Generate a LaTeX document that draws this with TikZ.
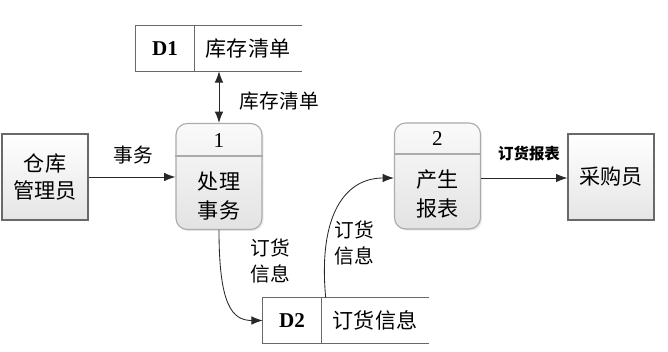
\documentclass[tikz,border=0pt]{standalone}
\usepackage{fontspec}
\setmainfont{Liberation Serif}
\newfontfamily\cjk{Noto Sans CJK SC}
\definecolor{BoxLine}{RGB}{105,105,105}
\definecolor{FlowLine}{RGB}{40,40,40}
\usetikzlibrary{arrows.meta,positioning,calc,shadows}

\tikzset{
  entity/.style={draw=BoxLine,line width=0.9pt,top color=white,bottom color=black!10,
    minimum width=2.15cm,minimum height=2.15cm,align=center,
    font=\cjk\fontsize{15}{19}\selectfont,
    drop shadow={opacity=0.15,shadow xshift=1pt,shadow yshift=-1pt}},
  proc/.style={draw=black!33,line width=0.8pt,rounded corners=8pt,top color=black!2,
    bottom color=black!11,minimum width=2.15cm,minimum height=2.65cm,
    drop shadow={opacity=0.15,shadow xshift=1.2pt,shadow yshift=-1.2pt}},
  proctext/.style={align=center,font=\cjk\fontsize{15}{20}\selectfont},
  storebox/.style={minimum width=4.15cm,minimum height=1.125cm,inner sep=0pt},
  storeline/.style={draw=BoxLine,line width=0.9pt},
  flow/.style={draw=FlowLine,line width=0.6pt,-{Latex[length=8pt,width=6pt]}},
  flowlabel/.style={font=\cjk\fontsize{14}{19}\selectfont,align=center}
}

\begin{document}
\begin{tikzpicture}[x=0.025cm,y=-0.025cm]
\useasboundingbox (0,0) rectangle (668,352);
% external entities
\node[entity] (clerk) at (45,177) {仓库\\管理员};
\node[entity] (buyer) at (611,177) {采购员};
% processes
\node[proc] (p1) at (219,176.5) {};
\node[proc] (p2) at (437.5,176) {};
\draw[draw=black!33,line width=0.8pt] (p1.west |- 0,156) -- (p1.east |- 0,156);
\draw[draw=black!33,line width=0.8pt] (p2.west |- 0,154) -- (p2.east |- 0,154);
\node[font=\fontsize{15}{18}\selectfont] (p1num) at (219,141) {1};
\node[font=\fontsize{15}{18}\selectfont] (p2num) at (437.5,139) {2};
\node[proctext] (p1txt) at (219,196) {处理\\事务};
\node[proctext] (p2txt) at (437.5,194) {产生\\报表};
% data stores
\foreach \n/\x/\y/\id/\txt in {d1/136/26/D1/库存清单, d2/263/298/D2/订货信息}{
  \node[storebox] (\n) at (\x+83,\y+22.5) {};
  \draw[storeline] (\n.north east) -- (\n.north west) -- (\n.south west) -- (\n.south east);
  \draw[storeline] ($(\n.north west)+(59,0)$) -- ($(\n.south west)+(59,0)$);
  \node[font=\bfseries\fontsize{15}{18}\selectfont] (\n id) at (\x+29,\y+22.5) {\id};
  \node[font=\cjk\fontsize{15}{18}\selectfont] (\n txt) at (\x+112,\y+22.5) {\txt};
}
% data flows
\draw[flow,{Latex[length=8pt,width=6pt]}-{Latex[length=8pt,width=6pt]}] (d1.south) -- (p1.north);
\node[flowlabel,anchor=west] (f1) at (235,101) {库存清单};
\draw[flow] (clerk.east) -- (clerk.east -| p1.west);
\node[flowlabel] (f2) at (133,155) {事务};
\draw[flow] (p1.south) .. controls (219,305) and (232,320.5) .. (d2.west);
\node[flowlabel] (f3) at (270,261) {订货\\信息};
\coordinate (d2out) at ($(d2.north west)+(63,0)$);
\draw[flow] (d2out) .. controls (318,215) and (345,178) .. (p2.west |- 0,178);
\node[flowlabel] (f4) at (354,243) {订货\\信息};
\draw[flow] (p2.east |- 0,178) -- (buyer.west |- 0,178);
\node[font=\cjk\bfseries\fontsize{11}{14}\selectfont] (f5) at (529,154) {订货报表};
\end{tikzpicture}
\end{document}
